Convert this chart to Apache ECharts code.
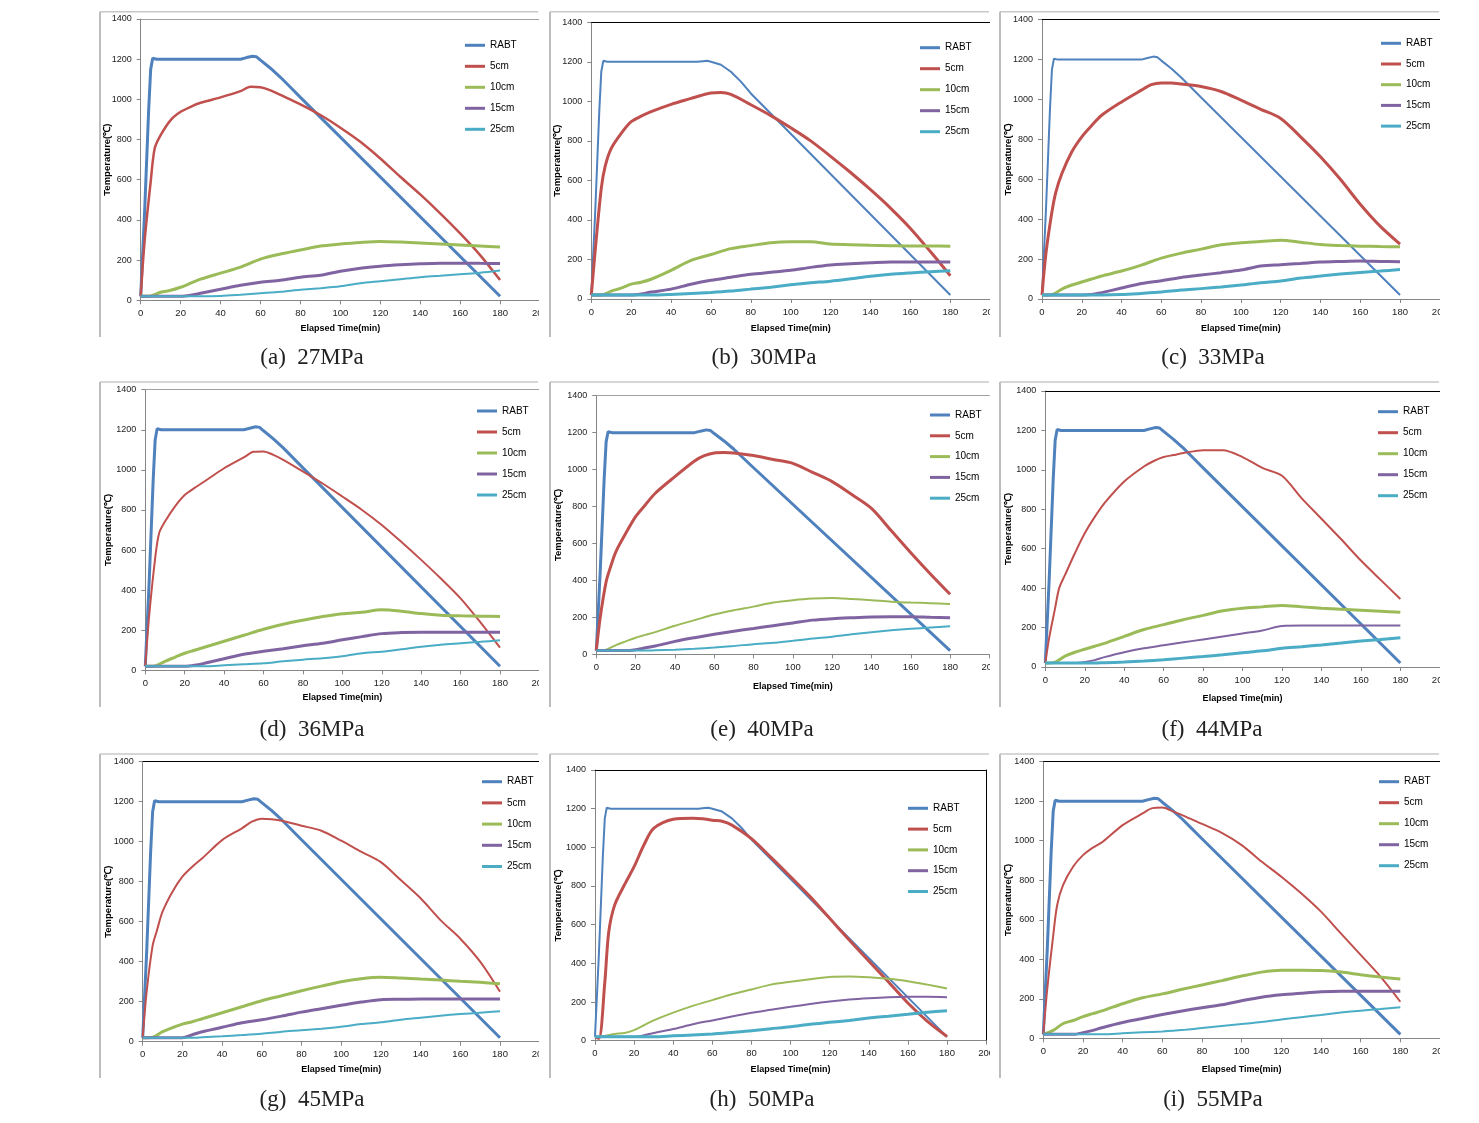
<!DOCTYPE html>
<html><head><meta charset="utf-8">
<script src="https://cdn.jsdelivr.net/npm/echarts@6/dist/echarts.min.js"></script>
<style>html,body{margin:0;padding:0;background:#fff}#c{width:1479px;height:1123px}</style>
</head><body><div id="c"></div>
<script>
// ---------- DATA ----------
const seriesNames = ['RABT', '5cm', '10cm', '15cm', '25cm'];
const captions = ['(a)  27MPa', '(b)  30MPa', '(c)  33MPa', '(d)  36MPa', '(e)  40MPa', '(f)  44MPa', '(g)  45MPa', '(h)  50MPa', '(i)  55MPa'];
const xTicks = [0, 20, 40, 60, 80, 100, 120, 140, 160, 180, 200];
const yTicks = [0, 200, 400, 600, 800, 1000, 1200, 1400];

// time (min)
const tRabt = [0, 2, 4, 5, 6, 7, 8, 50, 53, 56, 58, 60, 65, 70, 75, 80, 180];
const t5 = [0, 2, 5, 7, 10, 15, 20, 25, 30, 40, 50, 55, 60, 65, 70, 80, 90, 100, 110, 120, 130, 140, 150, 160, 170, 180];
const tLow = [0, 5, 10, 15, 20, 25, 30, 40, 50, 60, 70, 80, 90, 100, 110, 120, 130, 140, 150, 160, 170, 180];

// RABT heating curve (two slightly different recordings)
const rabtA = [20, 450, 950, 1150, 1205, 1210, 1200, 1200, 1208, 1215, 1212, 1195, 1155, 1110, 1060, 1010, 20];
const rabtB = [20, 450, 950, 1150, 1205, 1210, 1200, 1200, 1200, 1203, 1205, 1200, 1185, 1150, 1100, 1040, 20];

// (a) 27MPa
const a5  = [20, 300, 590, 756, 822, 897, 938, 963, 983, 1010, 1041, 1063, 1060, 1045, 1022, 975, 922, 859, 789, 706, 615, 527, 433, 333, 225, 101];
const a10 = [20, 22, 40, 50, 65, 85, 105, 135, 165, 205, 230, 250, 270, 280, 288, 293, 290, 285, 280, 275, 270, 265];
const a15 = [20, 20, 20, 20, 20, 25, 35, 55, 75, 90, 100, 115, 125, 145, 160, 170, 177, 182, 185, 185, 184, 183];
const a25 = [20, 20, 20, 20, 20, 20, 20, 22, 28, 35, 42, 52, 60, 70, 85, 95, 105, 115, 122, 130, 137, 148];
// (b) 30MPa
const b5  = [20, 250, 560, 673, 762, 838, 897, 925, 948, 985, 1015, 1030, 1042, 1045, 1035, 983, 928, 866, 800, 722, 640, 553, 460, 357, 240, 118];
const b10 = [20, 20, 40, 55, 75, 85, 100, 145, 195, 225, 255, 270, 285, 290, 290, 278, 275, 272, 270, 268, 268, 267];
const b15 = [20, 20, 20, 20, 20, 25, 35, 50, 75, 95, 110, 125, 135, 145, 160, 172, 178, 183, 187, 187, 187, 187];
const b25 = [20, 20, 20, 20, 20, 20, 20, 23, 28, 33, 40, 50, 60, 72, 82, 90, 102, 115, 125, 132, 138, 143];
// (c) 33MPa
const c5  = [20, 230, 437, 537, 629, 738, 813, 870, 921, 988, 1047, 1075, 1083, 1083, 1078, 1065, 1040, 997, 951, 905, 813, 713, 600, 475, 365, 275];
const c10 = [20, 22, 50, 70, 85, 100, 115, 140, 170, 205, 230, 250, 272, 282, 288, 295, 285, 273, 268, 265, 263, 262];
const c15 = [20, 20, 20, 20, 20, 22, 32, 55, 78, 92, 108, 120, 132, 145, 165, 172, 178, 185, 188, 190, 188, 187];
const c25 = [20, 20, 20, 20, 20, 20, 20, 22, 28, 35, 45, 52, 60, 70, 82, 90, 105, 115, 125, 133, 140, 148];
// (d) 36MPa
const d5  = [20, 276, 559, 684, 742, 817, 875, 910, 942, 1008, 1062, 1090, 1092, 1075, 1050, 992, 932, 867, 800, 725, 640, 551, 458, 359, 240, 113];
const d10 = [20, 22, 45, 65, 85, 100, 115, 145, 175, 205, 230, 250, 268, 282, 290, 302, 295, 283, 275, 272, 270, 268];
const d15 = [20, 20, 20, 20, 20, 25, 35, 58, 80, 95, 108, 122, 135, 152, 168, 183, 188, 190, 190, 190, 190, 190];
const d25 = [20, 20, 20, 20, 20, 20, 20, 25, 30, 35, 45, 53, 60, 70, 85, 93, 105, 118, 128, 135, 142, 150];
// (e) 40MPa
const e5  = [20, 200, 393, 465, 556, 655, 745, 810, 872, 962, 1047, 1075, 1090, 1092, 1090, 1076, 1055, 1034, 985, 935, 865, 790, 670, 550, 435, 325];
const e10 = [20, 25, 50, 70, 90, 105, 120, 155, 185, 215, 238, 258, 280, 293, 302, 305, 300, 293, 285, 280, 277, 272];
const e15 = [20, 20, 20, 20, 25, 35, 45, 70, 90, 108, 125, 140, 155, 170, 185, 193, 198, 202, 203, 203, 200, 198];
const e25 = [20, 20, 20, 20, 20, 20, 22, 25, 30, 37, 45, 55, 62, 73, 85, 95, 108, 120, 130, 138, 145, 152];
// (f) 44MPa
const f5  = [20, 150, 300, 399, 467, 577, 678, 760, 831, 941, 1017, 1045, 1065, 1075, 1085, 1100, 1100, 1065, 1010, 970, 855, 752, 648, 540, 442, 345];
const f10 = [20, 25, 55, 75, 90, 105, 120, 155, 190, 215, 240, 262, 285, 298, 305, 312, 305, 298, 293, 288, 283, 278];
const f15 = [20, 20, 20, 20, 25, 35, 50, 75, 95, 110, 125, 140, 155, 170, 185, 208, 210, 210, 210, 210, 210, 210];
const f25 = [20, 20, 20, 20, 20, 20, 22, 25, 30, 37, 45, 53, 62, 72, 82, 95, 103, 112, 122, 132, 140, 148];
// (g) 45MPa
const g5  = [20, 250, 480, 550, 650, 750, 825, 875, 917, 1008, 1067, 1100, 1115, 1112, 1105, 1080, 1055, 1005, 950, 898, 808, 717, 608, 515, 400, 250];
const g10 = [20, 22, 50, 70, 88, 100, 115, 145, 175, 205, 230, 255, 278, 300, 315, 322, 318, 313, 308, 302, 297, 290];
const g15 = [20, 20, 20, 20, 20, 35, 50, 72, 95, 110, 128, 148, 165, 182, 198, 210, 212, 213, 213, 213, 213, 213];
const g25 = [20, 20, 20, 20, 20, 20, 22, 27, 33, 40, 50, 57, 65, 75, 88, 97, 110, 120, 130, 138, 145, 152];
// (h) 50MPa
const h5  = [20, 12, 300, 560, 700, 805, 900, 1012, 1098, 1145, 1150, 1148, 1140, 1135, 1115, 1045, 948, 848, 745, 633, 521, 412, 305, 195, 100, 22];
const h10 = [20, 25, 35, 40, 55, 80, 105, 145, 180, 210, 240, 265, 290, 305, 318, 330, 332, 328, 320, 308, 290, 270];
const h15 = [20, 20, 20, 20, 20, 28, 40, 60, 85, 105, 125, 145, 160, 175, 190, 203, 213, 220, 225, 227, 227, 225];
const h25 = [20, 20, 20, 20, 20, 20, 20, 25, 30, 35, 42, 52, 62, 72, 85, 95, 105, 117, 127, 137, 147, 155];
// (i) 55MPa
const i5  = [20, 250, 520, 675, 776, 868, 927, 965, 995, 1079, 1138, 1165, 1168, 1150, 1130, 1085, 1040, 978, 895, 818, 734, 641, 531, 422, 312, 185];
const i10 = [20, 40, 75, 90, 110, 125, 140, 175, 205, 225, 248, 270, 292, 315, 335, 345, 345, 343, 335, 322, 310, 300];
const i15 = [20, 20, 20, 20, 28, 40, 55, 80, 100, 120, 138, 155, 170, 190, 208, 220, 228, 235, 238, 238, 238, 238];
const i25 = [20, 20, 20, 20, 20, 20, 20, 25, 30, 35, 42, 52, 62, 72, 82, 95, 107, 118, 130, 140, 148, 157];

const panelData = [
  [rabtA, a5, a10, a15, a25], [rabtB, b5, b10, b15, b25], [rabtA, c5, c10, c15, c25],
  [rabtA, d5, d10, d15, d25], [rabtA, e5, e10, e15, e25], [rabtA, f5, f10, f15, f25],
  [rabtA, g5, g10, g15, g25], [rabtB, h5, h10, h15, h25], [rabtA, i5, i10, i15, i25]
];

// ---------- STYLE / LAYOUT ----------
const colors = ['#4F81BD', '#C0504D', '#9BBB59', '#8064A2', '#4BACC6'];
const widths = [
  [3, 2.5, 3, 3, 2], [2, 3, 3, 3, 3], [2, 3, 3, 3, 3],
  [3, 2, 3, 3, 2], [3, 3, 2, 3, 2], [3, 2, 3, 2, 3],
  [3, 2, 3, 3, 2], [2, 3, 2, 2, 3], [3, 2, 3, 3, 2]
];
const layout = [
  {g: [140.7, 19, 399.3, 281.3], lg: [465, 39.3], gap: 9, cap: [312, 358], topC: '#a0a0a0', xg: 24, yg: 28},
  {g: [591.3, 22.3, 398.9, 276.7], lg: [920, 41.7], gap: 9, cap: [764, 358], topC: '#000', xg: 25, yg: 29},
  {g: [1042, 19.7, 397.8, 279.3], lg: [1381, 37.3], gap: 8.7, cap: [1213, 358], topC: '#000', xg: 25, yg: 29},
  {g: [145.3, 389.7, 394.1, 280.6], lg: [477, 405], gap: 9, cap: [312, 730], topC: '#a0a0a0', xg: 23, yg: 32},
  {g: [596.3, 395.7, 393.1, 258.6], lg: [930, 409], gap: 8.8, cap: [762, 730], topC: '#a0a0a0', xg: 28, yg: 33},
  {g: [1045.3, 391, 394.5, 276], lg: [1378, 405.7], gap: 9, cap: [1212, 730], topC: '#000', xg: 27, yg: 32},
  {g: [142.7, 761.7, 397, 280], lg: [482, 775.7], gap: 9.2, cap: [312, 1100], topC: '#000', xg: 23, yg: 29.5},
  {g: [595, 770, 391.1, 270.7], lg: [908, 802.3], gap: 8.8, cap: [762, 1100], topC: '#000', xg: 24, yg: 32},
  {g: [1043.3, 761.7, 396.7, 276.6], lg: [1379, 775.7], gap: 9, cap: [1213, 1100], topC: '#000', xg: 27, yg: 30}
];
const frames = [
  [100, 11.7, 538, 337], [550, 11.7, 989, 337], [1000, 11.7, 1439, 337],
  [100, 382, 538, 707], [550, 382, 989, 707], [1000, 382, 1439, 707],
  [100, 754, 538, 1078], [550, 754, 989, 1078], [1000, 754, 1439, 1078]
];
const FONT = 'Liberation Sans, Arial, sans-serif';
const axisGray = '#868686';

const grids = [], xAxes = [], yAxes = [], series = [], legends = [], graphics = [];
const zip = (t, v) => t.map((x, k) => [x, v[k]]);
const plain = v => String(v);

layout.forEach((L, p) => {
  grids.push({left: L.g[0], top: L.g[1], width: L.g[2], height: L.g[3], containLabel: false});
  xAxes.push({
    gridIndex: p, type: 'value', min: xTicks[0], max: xTicks[xTicks.length - 1], interval: 20,
    axisLine: {show: true, onZero: false, lineStyle: {color: axisGray, width: 1}},
    axisTick: {show: true, length: 4, lineStyle: {color: axisGray}},
    axisLabel: {fontSize: 9.5, color: '#222', margin: 8, fontFamily: FONT, formatter: plain},
    splitLine: {show: false},
    name: 'Elapsed Time(min)', nameLocation: 'middle', nameGap: L.xg, nameMoveOverlap: false,
    nameTextStyle: {fontSize: 9, fontWeight: 'bold', color: '#000', fontFamily: FONT}
  });
  xAxes.push({
    gridIndex: p, type: 'value', position: 'top', min: 0, max: 200,
    axisLine: {show: true, onZero: false, lineStyle: {color: L.topC, width: 1}},
    axisTick: {show: false}, axisLabel: {show: false}, splitLine: {show: false}
  });
  yAxes.push({
    gridIndex: p, type: 'value', min: yTicks[0], max: yTicks[yTicks.length - 1], interval: 200,
    axisLine: {show: true, onZero: false, lineStyle: {color: axisGray, width: 1}},
    axisTick: {show: true, length: 4, lineStyle: {color: axisGray}},
    axisLabel: {fontSize: 9, color: '#222', margin: 9, fontFamily: FONT, formatter: plain},
    splitLine: {show: false},
    name: 'Temperature(℃)', nameLocation: 'middle', nameGap: L.yg, nameRotate: 90, nameMoveOverlap: false,
    nameTextStyle: {fontSize: 9.5, fontWeight: 'bold', color: '#000', fontFamily: FONT}
  });
  const D = panelData[p];
  D.forEach((vals, s) => {
    series.push({
      type: 'line', name: seriesNames[s], xAxisIndex: 2 * p, yAxisIndex: p,
      data: zip(s === 0 ? tRabt : (s === 1 ? t5 : tLow), vals),
      showSymbol: false, symbol: 'none', smooth: s === 0 ? false : 0.3,
      lineStyle: {color: colors[s], width: widths[p][s]}, itemStyle: {color: colors[s]},
      animation: false, z: 2 + s
    });
  });
  legends.push({
    left: L.lg[0], top: L.lg[1], orient: 'vertical', icon: 'rect', itemWidth: 20, itemHeight: 3,
    itemGap: L.gap, selectedMode: false, data: seriesNames, padding: 0,
    textStyle: {fontSize: 10, lineHeight: 12, color: '#000', fontFamily: FONT}
  });
  graphics.push({type: 'text', x: L.cap[0], y: L.cap[1], z: 100,
    style: {text: captions[p], fontSize: 23, fontFamily: 'Liberation Serif, serif', fill: '#222', align: 'center', verticalAlign: 'middle'}});
});
// right border for panel (h)
yAxes.push({gridIndex: 7, type: 'value', position: 'right', min: 0, max: 1400,
  axisLine: {show: true, onZero: false, lineStyle: {color: '#000', width: 1}},
  axisTick: {show: false}, axisLabel: {show: false}, splitLine: {show: false}});

// clipping masks at the right edge of each column, and the chart-area frames
[[539, 10], [990, 9], [1440, 39]].forEach(m => graphics.push({type: 'rect', z: 90,
  shape: {x: m[0], y: 0, width: m[1], height: 1123}, style: {fill: '#fff'}}));
frames.forEach(f => {
  graphics.push({type: 'line', z: 95, shape: {x1: f[0], y1: f[1], x2: f[2], y2: f[1]}, style: {stroke: '#c8c8c8', lineWidth: 1.5}});
  graphics.push({type: 'line', z: 95, shape: {x1: f[0], y1: f[1], x2: f[0], y2: f[3]}, style: {stroke: '#bdbdbd', lineWidth: 2}});
});

const chart = echarts.init(document.getElementById('c'), null, {renderer: 'canvas'});
chart.setOption({
  backgroundColor: '#fff', animation: false,
  grid: grids, xAxis: xAxes, yAxis: yAxes, series: series, legend: legends, graphic: graphics
});
</script></body></html>
